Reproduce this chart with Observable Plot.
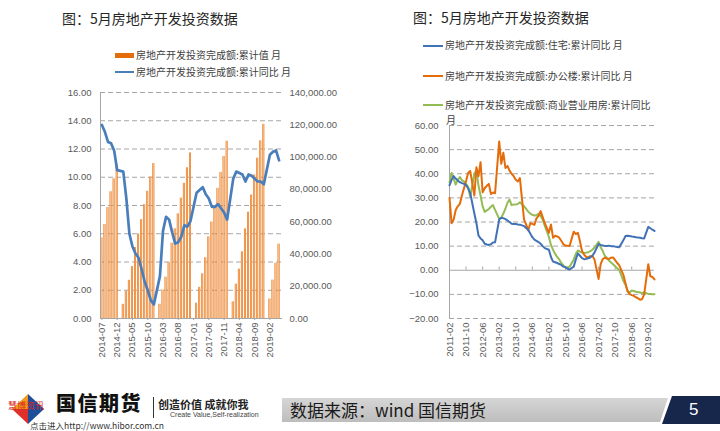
<!DOCTYPE html>
<html><head><meta charset="utf-8">
<script src="https://cdn.jsdelivr.net/npm/d3@7"></script>
<script src="https://cdn.jsdelivr.net/npm/@observablehq/plot@0.6"></script>
<style>
body{margin:0;width:720px;height:431px;overflow:hidden;background:#fff;position:relative;font-family:"Noto Sans CJK SC",sans-serif;}
.abs{position:absolute;white-space:nowrap;}
.title{font-size:14px;line-height:20px;color:#262626;}
.leg{font-size:10px;line-height:12px;color:#404040;}
</style></head><body>
<div id="root"></div>
<script>
// ---------- Left chart data (2014-07 .. 2019-05; January has no release) ----------
const leftTickLabels = ["2014-07","2014-12","2015-05","2015-10","2016-03","2016-08","2017-01","2017-06","2017-11","2018-04","2018-09","2019-02"];
const leftInvest = [ // 房地产开发投资完成额:累计值 (亿元)
  50005, 58277, 68751, 78536, 86550, 95036,
  null, 8786, 16914, 23666, 32166, 43955, 52322, 61246, 70535, 78801, 87702, 95979,
  null, 8811, 17677, 25629, 34708, 46631, 55580, 64854, 74598, 83786, 93387, 102581,
  null, 9478, 19292, 27732, 37674, 50610, 59761, 69694, 80644, 90544, 100387, 109799,
  null, 10357, 21292, 30592, 41349, 55531, 65879, 76519, 88948, 99325, 110083, 120264,
  null, 12090, 23803, 34217, 46075
];
const leftYoY = [ // 房地产开发投资完成额:累计同比 (%)
  13.7, 13.2, 12.5, 12.4, 11.9, 10.5,
  null, 10.4, 8.5, 6.0, 5.1, 4.6, 4.3, 3.5, 2.6, 2.0, 1.3, 1.0,
  null, 3.0, 6.2, 7.2, 7.0, 6.1, 5.3, 5.4, 5.8, 6.6, 6.5, 6.9,
  null, 8.9, 9.1, 9.3, 8.8, 8.5, 7.9, 7.9, 8.1, 7.8, 7.5, 7.0,
  null, 9.9, 10.4, 10.3, 10.2, 9.7, 10.2, 10.1, 9.9, 9.7, 9.7, 9.5,
  null, 11.6, 11.8, 11.9, 11.2
];
const leftTicksL = [0,2,4,6,8,10,12,14,16];
const leftTicksR = [0,20000,40000,60000,80000,100000,120000,140000];

// ---------- Right chart data (2011-02 .. 2019-05) ----------
const rightTickLabels = ["2011-02","2011-10","2012-06","2013-02","2013-10","2014-06","2015-02","2015-10","2016-06","2017-02","2017-10","2018-06","2019-02"];
const resiYoY = [
  35.2, 37.5, 39.0, 38.0, 37.2, 36.5, 36.1, 35.8, 35.3, 34.0, 32.0,
  null, 23.5, 19.5, 14.4, 13.2, 12.4, 11.0, 10.7, 10.5, 10.8, 11.5, 11.6,
  null, 21.0, 21.8, 21.6, 21.2, 20.6, 20.0, 19.3, 19.2, 19.2, 19.0, 18.9,
  null, 18.3, 17.5, 16.8, 15.2, 13.7, 12.7, 12.2, 11.7, 11.0, 10.0, 9.2,
  null, 8.5, 5.5, 3.6, 3.3, 3.0, 2.6, 2.2, 1.5, 1.2, 0.6, 0.3,
  null, 1.5, 4.5, 7.0, 6.0, 5.0, 4.6, 4.7, 5.0, 5.3, 6.0, 7.3,
  null, 10.9, 10.5, 10.3, 10.1, 10.1, 10.2, 10.0, 10.0, 9.8, 9.6, 9.5,
  null, 12.5, 14.2, 14.3, 14.2, 14.0, 13.9, 13.7, 13.6, 13.5, 13.3, 13.2,
  null, 18.0, 17.4, 16.8, 16.3
];
const officeYoY = [
  30.0, 19.5, 21.0, 25.0, 26.5, 27.5, 31.0, 34.0, 37.0, 40.3, 41.2,
  null, 31.0, 42.7, 39.0, 44.8, 32.3, 34.0, 35.0, 35.8, 31.6, 32.2, 31.9,
  null, 53.4, 44.1, 48.7, 42.4, 43.2, 41.3, 40.0, 39.0, 37.5, 36.8, 38.2,
  null, 21.0, 19.0, 16.5, 19.5, 19.2, 18.8, 21.5, 22.5, 24.5, 22.0, 19.5,
  null, 15.5, 19.0, 13.5, 14.3, 14.0, 13.5, 12.2, 10.8, 10.2, 10.2, 10.1,
  null, 16.0, 15.0, 15.5, 12.0, 8.0, 6.5, 5.5, 5.4, 5.8, 6.0, 4.5,
  null, -3.6, 2.5, 4.6, 5.2, 4.8, 4.7, 5.2, 5.3, 4.2, 3.0, 2.0,
  null, -2.0, -5.5, -8.8, -9.9, -10.3, -10.6, -11.2, -11.6, -12.2, -12.0, -10.0,
  null, 2.5, -2.5, -2.8, -3.8
];
const commYoY = [
  36.5, 40.3, 38.0, 35.5, 37.5, 38.6, 37.3, 36.8, 35.8, 34.5, 30.5,
  null, 40.0, 41.5, 35.0, 31.0, 26.5, 24.2, 24.8, 25.4, 26.3, 27.0, 25.0,
  null, 21.3, 21.8, 23.5, 25.5, 28.0, 29.3, 27.0, 27.3, 27.2, 27.5, 28.2,
  null, 26.5, 25.5, 24.3, 23.5, 23.0, 22.7, 22.8, 23.4, 22.5, 21.0, 18.5,
  null, 13.8, 10.5, 8.5, 6.8, 5.5, 4.5, 3.0, 2.0, 1.2, 1.2, 1.5,
  null, 4.5, 6.8, 8.2, 7.7, 7.3, 7.2, 7.3, 7.5, 7.9, 8.5, 9.3,
  null, 11.8, 9.5, 8.0, 6.0, 5.2, 4.0, 3.2, 2.5, 1.7, 0.8, 0.0,
  null, -4.5, -6.0, -8.5, -9.2, -8.4, -8.6, -8.9, -9.0, -9.2, -9.4, -9.2,
  null, -9.8, -9.8, -9.9, -9.9
];
const rightTicks = [-20,-10,0,10,20,30,40,50,60];

const seriesNames = ["房地产开发投资完成额:住宅:累计同比 月","房地产开发投资完成额:办公楼:累计同比 月","房地产开发投资完成额:商业营业用房:累计同比"];
const seriesColors = ["#4272B6","#E46C0A","#94BC55"];

const fmtM = d3.utcFormat("%Y-%m");
const leftMonths = d3.utcMonth.range(new Date(Date.UTC(2014,6,1)), new Date(Date.UTC(2019,5,1))).map(fmtM);
const rightMonths = d3.utcMonth.range(new Date(Date.UTC(2011,1,1)), new Date(Date.UTC(2019,5,1))).map(fmtM);

const axisStyle = {fontFamily:'"Liberation Sans", Arial, sans-serif', fontSize:"9.5px", color:"#595959", background:"transparent", overflow:"visible"};
const grid = "#A6A6A6";
const ratio = 140000/16;

const defs = () => {
  const g = document.createElementNS("http://www.w3.org/2000/svg","defs");
  g.innerHTML = '<linearGradient id="barGrad" x1="0" x2="1" y1="0" y2="0"><stop offset="0" stop-color="#E46C0A"/><stop offset="0.5" stop-color="#F9C08E"/><stop offset="1" stop-color="#E46C0A"/></linearGradient>';
  return g;
};

const barData = leftInvest.map((v,i)=>({i,v})).filter(d=>d.v!=null);
const lineData = leftYoY.map((v,i)=>({i,v})).filter(d=>d.v!=null);
const xL0 = -0.46;

const plotL = Plot.plot({
  width:370, height:300, marginLeft:100, marginRight:88, marginTop:12, marginBottom:62,
  style: axisStyle,
  x:{type:"linear", domain:[xL0, 59.12]},
  y:{domain:[0,16]},
  marks:[
    defs,
    Plot.ruleY(leftTicksL.filter(t=>t>0), {stroke:grid, strokeDasharray:"5,3"}),
    Plot.rect(barData, {x1:d=>d.i-0.33, x2:d=>d.i+0.33, y1:0, y2:d=>d.v/ratio, fill:"url(#barGrad)"}),
    Plot.ruleY([0], {stroke:grid}),
    Plot.ruleX([xL0], {stroke:grid}),
    Plot.line(lineData, {x:"i", y:"v", stroke:"#4A7EBB", strokeWidth:2.7}),
    Plot.axisY({ticks:leftTicksL, tickFormat:d3.format(".2f"), tickSize:0, tickPadding:9, anchor:"left", label:null}),
    Plot.axisY({ticks:leftTicksR.map(v=>v/ratio), tickFormat:v=>d3.format(",.2f")(Math.round(v*ratio)), tickSize:0, tickPadding:7, anchor:"right", label:null}),
    Plot.axisX({ticks:leftTickLabels.map(l=>leftMonths.indexOf(l)), tickFormat:i=>leftMonths[i], tickRotate:-90, tickSize:2, tickPadding:2, stroke:grid, label:null})
  ]
});

const rightData = [resiYoY, officeYoY, commYoY].flatMap((arr,s)=>arr.map((v,i)=>({s,i,v})).filter(d=>d.v!=null));
const rTickIdx = rightTickLabels.map(l=>rightMonths.indexOf(l));

const plotR = Plot.plot({
  width:360, height:270, marginLeft:89, marginRight:66, marginTop:15, marginBottom:62,
  style: axisStyle,
  x:{type:"linear", domain:[0, 99]},
  y:{domain:[-20,60]},
  marks:[
    Plot.ruleY(rightTicks.filter(t=>t!==0), {stroke:grid, strokeDasharray:"5,3"}),
    Plot.ruleY([0], {stroke:grid}),
    Plot.ruleX(rTickIdx, {y1:0, y2:1.3, stroke:grid}),
    Plot.ruleX([0], {stroke:grid}),
    Plot.line(rightData.filter(d=>d.s===2), {x:"i", y:"v", stroke:seriesColors[2], strokeWidth:2}),
    Plot.line(rightData.filter(d=>d.s===1), {x:"i", y:"v", stroke:seriesColors[1], strokeWidth:2}),
    Plot.line(rightData.filter(d=>d.s===0), {x:"i", y:"v", stroke:seriesColors[0], strokeWidth:2}),
    Plot.axisY({ticks:rightTicks, tickFormat:d3.format(".2f"), tickSize:0, tickPadding:11, anchor:"left", label:null}),
    Plot.axisX({ticks:rTickIdx, tickFormat:i=>rightMonths[i], tickRotate:-90, tickSize:0, tickPadding:4, label:null})
  ]
});

const root = document.getElementById("root");
function add(el, css){ const d = document.createElement("div"); d.className="abs"; Object.assign(d.style, css); if (typeof el === "string") d.textContent = el; else d.appendChild(el); root.appendChild(d); return d; }

add(plotL, {left:"0px", top:"80px"});
add(plotR, {left:"360px", top:"110px"});

// titles
add("图：5月房地产开发投资数据", {left:"62px", top:"8px"}).classList.add("title");
add("图：5月房地产开发投资数据", {left:"413px", top:"7px"}).classList.add("title");

// left legend
add("", {left:"115px", top:"52.5px", width:"19px", height:"5px", background:"#E46C0A"});
add("房地产开发投资完成额:累计值 月", {left:"136px", top:"49px"}).classList.add("leg");
add("", {left:"115px", top:"70.8px", width:"19px", height:"2.4px", background:"#4A7EBB"});
add("房地产开发投资完成额:累计同比 月", {left:"136px", top:"66px"}).classList.add("leg");

// right legend
[45.7, 75.8, 104.8].forEach((y,k)=>{
  add("", {left:"423px", top:(y-1.2)+"px", width:"20px", height:"2.4px", background:seriesColors[k]});
  add(seriesNames[k], {left:"445px", top:(y-6.3)+"px"}).classList.add("leg");
});
add("月", {left:"446px", top:"113.5px"}).classList.add("leg");

// footer
add("", {left:"282px", top:"398px", width:"386px", height:"24px", background:"linear-gradient(#D6D6D6,#BDBDBD)", clipPath:"polygon(0 0,100% 0,calc(100% - 8px) 100%,0 100%)"});
add("数据来源：wind 国信期货", {left:"290px", top:"398px", fontSize:"17px", lineHeight:"24px", color:"#1a1a1a"});
add("", {left:"662px", top:"396px", width:"58px", height:"28px", background:"#17264B", clipPath:"polygon(10px 0,100% 0,100% 100%,0 100%)"});
add("5", {left:"689px", top:"396px", fontSize:"17px", lineHeight:"28px", color:"#fff", fontFamily:"Liberation Sans, Arial, sans-serif"});

const logo = document.createElementNS("http://www.w3.org/2000/svg","svg");
logo.setAttribute("width","50"); logo.setAttribute("height","34");
logo.innerHTML = '<polygon points="4,17 20,2 20,17" fill="#F39A1E"/><polygon points="4,17 20,32 20,17" fill="#E0302B"/><polygon points="20,2 36,17 20,32" fill="#1F4E9B"/>';
add(logo, {left:"8px", top:"392px"});
add("国信期货", {left:"56px", top:"393px", fontSize:"20px", lineHeight:"20px", fontWeight:"900", color:"#111", letterSpacing:"1.5px"});
add("", {left:"153px", top:"397px", width:"1px", height:"21px", background:"#333"});
add("创造价值 成就你我", {left:"158px", top:"398px", fontSize:"11px", lineHeight:"13px", fontWeight:"700", color:"#222"});
add("Create Value,Self-realization", {left:"170px", top:"411px", fontSize:"7px", lineHeight:"8px", color:"#444", fontFamily:"Liberation Sans, Arial, sans-serif"});
add("慧博资讯", {left:"8px", top:"401px", fontSize:"9px", lineHeight:"10px", color:"#D9261C"});
add("点击进入http://www.hibor.com.cn", {left:"30px", top:"420px", fontSize:"8.5px", lineHeight:"10px", color:"#333"});
</script>
</body></html>
